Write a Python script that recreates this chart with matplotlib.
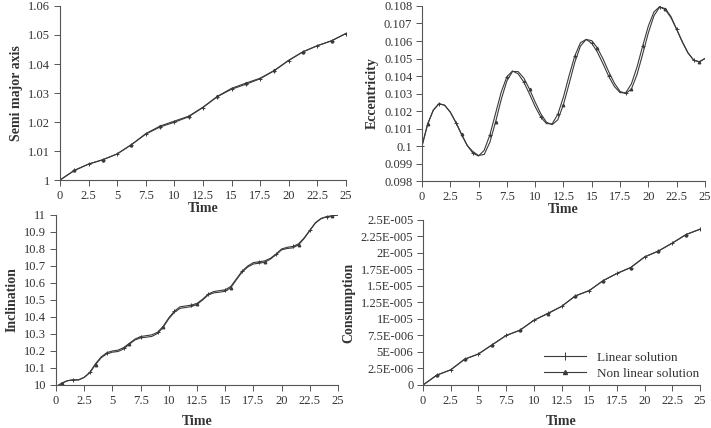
import numpy as np
import matplotlib
matplotlib.use("Agg")
import matplotlib.pyplot as plt

plt.rcParams["font.family"] = ["Liberation Serif", "DejaVu Serif"]

# coarse time grid (semi major axis, consumption) and fine grid (eccentricity, inclination)
time_coarse = [0, 1.25, 2.5, 3.75, 5, 6.25, 7.5, 8.75, 10, 11.25, 12.5,
               13.75, 15, 16.25, 17.5, 18.75, 20, 21.25, 22.5, 23.75, 25]
time_fine = [0, 0.5, 1, 1.5, 2, 2.5, 3, 3.5, 4, 4.5, 5, 5.5, 6, 6.5, 7, 7.5, 8, 8.5, 9, 9.5,
             10, 10.5, 11, 11.5, 12, 12.5, 13, 13.5, 14, 14.5, 15, 15.5, 16, 16.5, 17, 17.5,
             18, 18.5, 19, 19.5, 20, 20.5, 21, 21.5, 22, 22.5, 23, 23.5, 24, 24.5, 25]

semi_lin = [1.0, 1.0033, 1.0055, 1.0070, 1.0090, 1.0122, 1.0158, 1.0183, 1.0199, 1.0218, 1.0250,
            1.0287, 1.0313, 1.0330, 1.0349, 1.0377, 1.0412, 1.0442, 1.0463, 1.0480, 1.0505]
semi_nl = [1.0, 1.0033, 1.0055, 1.0070, 1.0090, 1.0122, 1.0160, 1.0186, 1.0203, 1.0220, 1.0251,
           1.0288, 1.0316, 1.0334, 1.0351, 1.0378, 1.0413, 1.0442, 1.0463, 1.0480, 1.0505]

ecc_lin = [0.10000, 0.10125, 0.10205, 0.10242, 0.10233, 0.10194, 0.10134, 0.10066, 0.10003, 0.09959,
           0.09943, 0.09976, 0.10064, 0.10186, 0.10308, 0.10396, 0.10429, 0.10412, 0.10365, 0.10297,
           0.10225, 0.10165, 0.10128, 0.10127, 0.10181, 0.10281, 0.10403, 0.10515, 0.10590, 0.10609,
           0.10587, 0.10536, 0.10469, 0.10398, 0.10340, 0.10305, 0.10304, 0.10355, 0.10452, 0.10572,
           0.10686, 0.10767, 0.10796, 0.10779, 0.10733, 0.10667, 0.10595, 0.10532, 0.10491, 0.10481,
           0.10500]
ecc_nl = [0.10000, 0.10125, 0.10205, 0.10242, 0.10233, 0.10194, 0.10134, 0.10066, 0.10003, 0.09968,
          0.09946, 0.09952, 0.10022, 0.10137, 0.10266, 0.10372, 0.10426, 0.10425, 0.10388, 0.10325,
          0.10251, 0.10184, 0.10136, 0.10122, 0.10150, 0.10237, 0.10356, 0.10478, 0.10571, 0.10609,
          0.10602, 0.10560, 0.10497, 0.10424, 0.10359, 0.10312, 0.10300, 0.10325, 0.10409, 0.10525,
          0.10647, 0.10745, 0.10794, 0.10785, 0.10739, 0.10667, 0.10595, 0.10532, 0.10491, 0.10481,
          0.10500]

inc_lin = [9.99, 10.01, 10.025, 10.03, 10.03, 10.045, 10.075, 10.125, 10.165, 10.19,
           10.20, 10.205, 10.22, 10.245, 10.27, 10.285, 10.29, 10.295, 10.31, 10.345,
           10.395, 10.435, 10.46, 10.465, 10.47, 10.48, 10.505, 10.535, 10.55, 10.555,
           10.56, 10.58, 10.625, 10.67, 10.70, 10.72, 10.725, 10.73, 10.745, 10.77,
           10.80, 10.81, 10.815, 10.83, 10.865, 10.91, 10.955, 10.98, 10.99, 10.995, 11.0]
inc_nl = [9.99, 10.01, 10.025, 10.03, 10.03, 10.045, 10.072, 10.12, 10.16, 10.183,
          10.193, 10.197, 10.212, 10.24, 10.265, 10.277, 10.281, 10.286, 10.303, 10.34,
          10.39, 10.428, 10.451, 10.456, 10.461, 10.474, 10.50, 10.53, 10.542, 10.546,
          10.551, 10.573, 10.62, 10.665, 10.694, 10.712, 10.716, 10.722, 10.74, 10.766,
          10.795, 10.803, 10.807, 10.824, 10.862, 10.908, 10.953, 10.978, 10.99, 10.995, 11.0]

cons_lin = [0, 1.5e-6, 2.3e-6, 3.9e-6, 4.7e-6, 6.1e-6, 7.5e-6, 8.3e-6, 9.8e-6, 10.85e-6, 11.9e-6,
            13.5e-6, 14.3e-6, 15.8e-6, 16.9e-6, 17.8e-6, 19.4e-6, 20.3e-6, 21.5e-6, 22.8e-6, 23.6e-6]
cons_nl = [0, 1.5e-6, 2.3e-6, 3.9e-6, 4.7e-6, 6.1e-6, 7.5e-6, 8.3e-6, 9.8e-6, 10.8e-6, 11.9e-6,
           13.5e-6, 14.3e-6, 15.8e-6, 16.9e-6, 17.8e-6, 19.4e-6, 20.3e-6, 21.5e-6, 22.8e-6, 23.6e-6]

x_ticks = [0, 2.5, 5, 7.5, 10, 12.5, 15, 17.5, 20, 22.5, 25]
x_ticklabels = ["0", "2.5", "5", "7.5", "10", "12.5", "15", "17.5", "20", "22.5", "25"]

semi_ticks = [1, 1.01, 1.02, 1.03, 1.04, 1.05, 1.06]
semi_labels = ["1", "1.01", "1.02", "1.03", "1.04", "1.05", "1.06"]
ecc_ticks = [0.098, 0.099, 0.1, 0.101, 0.102, 0.103, 0.104, 0.105, 0.106, 0.107, 0.108]
ecc_labels = ["0.098", "0.099", "0.1", "0.101", "0.102", "0.103", "0.104", "0.105", "0.106", "0.107", "0.108"]
inc_ticks = [10, 10.1, 10.2, 10.3, 10.4, 10.5, 10.6, 10.7, 10.8, 10.9, 11]
inc_labels = ["10", "10.1", "10.2", "10.3", "10.4", "10.5", "10.6", "10.7", "10.8", "10.9", "11"]
cons_ticks = [0, 2.5e-6, 5e-6, 7.5e-6, 1e-5, 1.25e-5, 1.5e-5, 1.75e-5, 2e-5, 2.25e-5, 2.5e-5]
cons_labels = ["0", "2.5E-006", "5E-006", "7.5E-006", "1E-005", "1.25E-005", "1.5E-005",
               "1.75E-005", "2E-005", "2.25E-005", "2.5E-005"]

line_col = "#3a3a3a"
txt_col = "#333333"

fig = plt.figure(figsize=(7.11, 4.28), dpi=100)

panels = [
    ([0.0844, 0.5794, 0.402, 0.4066], time_coarse, semi_lin, semi_nl, semi_ticks, semi_labels,
     "Semi major axis", 1, 0),
    ([0.5935, 0.577, 0.398, 0.409], time_fine, ecc_lin, ecc_nl, ecc_ticks, ecc_labels,
     "Eccentricity", 3, 0),
    ([0.0788, 0.1005, 0.3966, 0.3972], time_fine, inc_lin, inc_nl, inc_ticks, inc_labels,
     "Inclination", 3, 6),
    ([0.595, 0.1005, 0.3895, 0.3855], time_coarse, cons_lin, cons_nl, cons_ticks, cons_labels,
     "Consumption", 1, 6),
]

for rect, t, lin, nl, yt, ytl, ylab, mev, xpad in panels:
    ax = fig.add_axes(rect)
    l1, = ax.plot(t, lin, color=line_col, lw=0.8, marker="+", ms=3.5, mew=0.7,
                  markevery=mev, label="Linear solution")
    l2, = ax.plot(t, nl, color=line_col, lw=0.8, marker="^", ms=1.8,
                  markevery=(1, mev * 2), label="Non linear solution")
    ax.set_xlim(0, 25)
    ax.set_ylim(yt[0], yt[-1])
    ax.set_xticks(x_ticks)
    ax.set_xticklabels(x_ticklabels)
    ax.set_yticks(yt)
    ax.set_yticklabels(ytl)
    for s in ["top", "right"]:
        ax.spines[s].set_visible(False)
    for s in ["left", "bottom"]:
        ax.spines[s].set_color("#555555")
        ax.spines[s].set_linewidth(0.8)
    ax.tick_params(direction="out", length=4, width=0.7, color="#555555",
                   labelsize=9, labelcolor=txt_col, pad=3)
    ax.set_xlabel("Time", fontsize=10, fontweight="bold", color=txt_col, labelpad=xpad)
    ax.set_ylabel(ylab, fontsize=10, fontweight="bold", color=txt_col, labelpad=4)
    if ylab == "Consumption":
        ax.legend(handles=[l1, l2], loc="lower right", bbox_to_anchor=(1.04, -0.04),
                  frameon=False, fontsize=9.5, markerscale=1.6, handlelength=3.2,
                  labelcolor=txt_col, labelspacing=0.3)

fig.savefig("out.png", dpi=100)
